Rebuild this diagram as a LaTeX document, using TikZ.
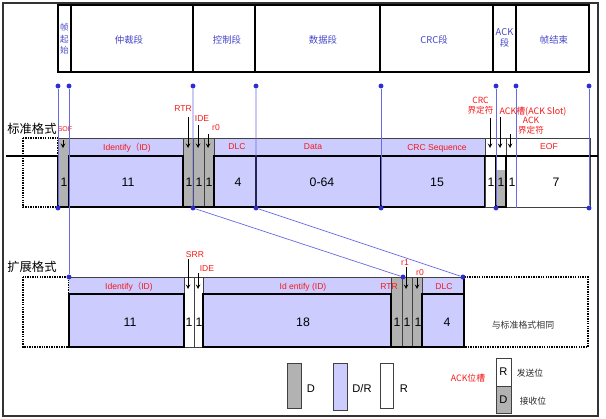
\documentclass[tikz,border=0pt]{standalone}
\usepackage{fontspec}
\setmainfont{Liberation Sans}
\newfontfamily\cjk{Noto Sans CJK SC}
\usepackage{xcolor}
\usepackage{tikz}
\usetikzlibrary{arrows, positioning, calc}
\definecolor{lav}{RGB}{204,204,255}
\definecolor{bitgray}{RGB}{178,178,178}
\definecolor{guideblue}{RGB}{105,105,225}
\definecolor{dotblue}{RGB}{45,45,210}
\definecolor{headblue}{RGB}{70,70,200}
\definecolor{lblred}{RGB}{245,25,25}
\tikzset{
  thickline/.style={line width=2.2pt, draw=black},
  thinline/.style={line width=0.5pt, draw=black!75},
  dotbox/.style={line width=1.6pt, dash pattern=on 1.2pt off 0.9pt},
  guide/.style={line width=0.6pt, guideblue},
  guidedot/.style={circle, fill=dotblue, inner sep=0pt, minimum size=4.2pt},
  hdr/.style={text=headblue, font=\cjk\fontsize{8}{9.4}\selectfont, align=center, inner sep=0pt},
  fname/.style={text=lblred, font=\fontsize{7.3}{8.5}\selectfont, align=center, inner sep=0pt},
  cname/.style={text=lblred, font=\cjk\fontsize{7.3}{8.5}\selectfont, align=center, inner sep=0pt},
  bits/.style={font=\fontsize{10.5}{12}\selectfont, inner sep=0pt},
  fmt/.style={font=\cjk\fontsize{10.5}{12}\selectfont, inner sep=0pt},
  arrow/.style={->, >=stealth, line width=0.7pt}
}

\begin{document}
\begin{tikzpicture}[x=0.03cm, y=-0.03cm]
\useasboundingbox (0,0) rectangle (606,419);
\draw[line width=1pt, black!80] (3,3) rectangle (598,416);

% Header
\draw[line width=1.2pt] (58,5) rectangle (589,72);
\foreach \x in {71,193,255,380,493,516} \draw[line width=1.2pt] (\x,5) -- (\x,72);
\node[hdr, font=\cjk\fontsize{7.3}{9.8}\selectfont] (hsof) at (64.5,39) {帧\\起\\始};
\node[hdr] (harb) at (129,40) {仲裁段};
\node[hdr] (hctl) at (227,40) {控制段};
\node[hdr] (hdata) at (323,40) {数据段};
\node[hdr] (hcrc) at (434,40) {CRC段};
\node[hdr] (hack) at (504.5,37.5) {ACK\\段};
\node[hdr] (heof) at (554,40) {帧结束};

% Standard frame
\node[fmt] (std) at (32,129) {标准格式};
\draw[dotbox] (23,138) rectangle (58,207);
\fill[lav] (58,138) rectangle (485,156);
\draw[thinline] (58,138) -- (590,138);
\foreach \a/\b in {58/69, 183/193.5, 193.5/204, 204/214}
  \filldraw[fill=bitgray, thinline] (\a,138) rectangle (\b,207);
\filldraw[fill=lav, thickline] (69,156) rectangle (183,207);
\filldraw[fill=lav, thickline] (214,156) rectangle (256,207);
\filldraw[fill=lav, thickline] (256,156) rectangle (381,207);
\filldraw[fill=lav, thickline] (381,156) rectangle (485,207);
\fill[bitgray] (496,170) rectangle (506,207);
\draw[thinline] (485,138) rectangle (590,207);
\foreach \x in {496,506,516} \draw[thinline] (\x,138) -- (\x,207);
\draw[thickline] (6,156) -- (58,156) -- (58,207) -- (485,207);
\draw[thickline] (485,156) -- (598,156);
\draw[thickline] (496,156) rectangle (506,207);

% Extended frame
\node[fmt] (ext) at (32,267) {扩展格式};
\draw[dotbox] (23,277) rectangle (69,347);
\fill[lav] (69,277) rectangle (391,294);
\fill[lav] (422,277) rectangle (464,294);
\draw[thinline] (69,277) -- (464,277);
\foreach \a/\b in {184/194, 194/203}
  \filldraw[fill=white, thinline] (\a,277) rectangle (\b,347);
\foreach \a/\b in {391/402, 402/412, 412/422}
  \filldraw[fill=bitgray, thinline] (\a,277) rectangle (\b,347);
\filldraw[fill=lav, thickline] (69,294) rectangle (184,347);
\filldraw[fill=lav, thickline] (203,294) rectangle (391,347);
\filldraw[fill=lav, thickline] (422,294) rectangle (464,347);
\draw[thickline] (391,347) -- (422,347);
\draw[dotbox] (464,277) rectangle (588,347);
\draw[thickline] (464,277) -- (464,347);

% Field names
\node[fname, font=\fontsize{6}{7}\selectfont] (lsof) at (65,129) {SOF};
\node[fname] (lid) at (127,148) {Identify{\cjk （}ID)};
\node[fname] (lrtr) at (183,109) {RTR};
\node[fname] (lide) at (202,119) {IDE};
\node[fname] (lr0) at (216,128) {r0};
\node[fname] (ldlc) at (237,147) {DLC};
\node[fname] (ldata) at (313,147) {Data};
\node[fname] (lcrc) at (437,148) {CRC Sequence};
\node[fname] (leof) at (549,147) {EOF};
\node[cname] (lcrcd) at (480.5,106) {CRC\\界定符};
\node[cname, font=\cjk\fontsize{7.6}{8.5}\selectfont] (lslot) at (533,112) {ACK槽(ACK Slot)};
\node[cname] (lackd) at (531,126) {ACK\\界定符};

\node[fname] (xid) at (129,287) {Identify{\cjk （}ID)};
\node[fname] (xsrr) at (195,255) {SRR};
\node[fname] (xide) at (207,269) {IDE};
\node[fname] (xid2) at (303,287) {Id entify (ID)};
\node[fname] (xrtr) at (389,287) {RTR};
\node[fname] (xr1) at (405,263) {r1};
\node[fname] (xr0) at (420,273) {r0};
\node[fname] (xdlc) at (444,287) {DLC};

% Bit counts
\foreach \x/\t [count=\i] in {64/1, 128/11, 189/1, 199/1, 209/1, 238/4, 322/0-64, 437/15, 491/1, 501/1, 512/1, 556/7}
  \node[bits] (sb\i) at (\x,182) {\t};
\foreach \x/\t [count=\i] in {130/11, 189/1, 199/1, 303/18, 397/1, 407/1, 418/1, 447/4}
  \node[bits] (xb\i) at (\x,322) {\t};
\node[cname, text=black!80, font=\cjk\fontsize{7.6}{8.5}\selectfont] (same) at (523,325) {与标准格式相同};

% Arrows
\foreach \n/\x/\ya/\yb in {sof/63/140/148, rtr/188/117/148, ide/198/125/148, rzero/208/134/148,
    crcd/490/118/148, slot/500/117/148, ackd/510/134/148,
    srr/188/259/289, xide/198/273/289, xrone/406/267/289, xrzero/417/278/289} {
  \coordinate (\n a) at (\x,\ya);
  \coordinate (\n b) at (\x,\yb);
  \draw[arrow] (\n a) -- (\n b);
}

% Guides
\foreach \n/\x in {a/58, b/69, c/193, d/256, e/381, f/496, g/516, h/589}
  \node[guidedot] (t\n) at (\x,86) {};
\foreach \n/\x in {a/58, c/193, d/256, e/381, f/496, h/589}
  \node[guidedot] (s\n) at (\x,208) {};
\coordinate (sg) at (516,208);
\node[guidedot] (xb) at (69,277) {};
\node[guidedot] (xc) at (403,277) {};
\node[guidedot] (xd) at (463,277) {};
\draw[guide] (ta) -- (sa);
\draw[guide] (tb) -- (xb);
\draw[guide] (tc) -- (sc) -- (xc);
\draw[guide] (td) -- (sd) -- (xd);
\draw[guide] (te) -- (se);
\draw[guide] (tf) -- (sf);
\draw[guide] (tg) -- (sg);
\draw[guide] (th) -- (sh);

% Legend
\filldraw[fill=bitgray, thinline, line width=0.7pt] (287,363) rectangle (301,408);
\filldraw[fill=lav, thinline, line width=0.7pt] (333,363) rectangle (347,410);
\filldraw[fill=white, thinline, line width=0.7pt] (380,363) rectangle (393,408);
\node[bits, font=\fontsize{9.5}{11}\selectfont] (legd) at (311,389) {D};
\node[bits, font=\fontsize{9.5}{11}\selectfont] (legdr) at (362,389) {D/R};
\node[bits, font=\fontsize{9.5}{11}\selectfont] (legr) at (404,389) {R};
\node[cname, font=\cjk\fontsize{7.5}{8}\selectfont] (legack) at (468,378) {ACK位槽};
\filldraw[fill=white, thinline, line width=0.7pt] (496,358) rectangle (511,386);
\filldraw[fill=bitgray, thinline, line width=0.7pt] (496,386) rectangle (511,413);
\node[bits, font=\fontsize{9.5}{11}\selectfont] (legsr) at (503.5,372) {R};
\node[bits, font=\fontsize{9.5}{11}\selectfont] (legsd) at (503.5,400) {D};
\node[cname, text=black!85, font=\cjk\fontsize{7.5}{8}\selectfont] (legsend) at (530,373) {发送位};
\node[cname, text=black!85, font=\cjk\fontsize{7.5}{8}\selectfont] (legrecv) at (533,401) {接收位};
\end{tikzpicture}
\end{document}
